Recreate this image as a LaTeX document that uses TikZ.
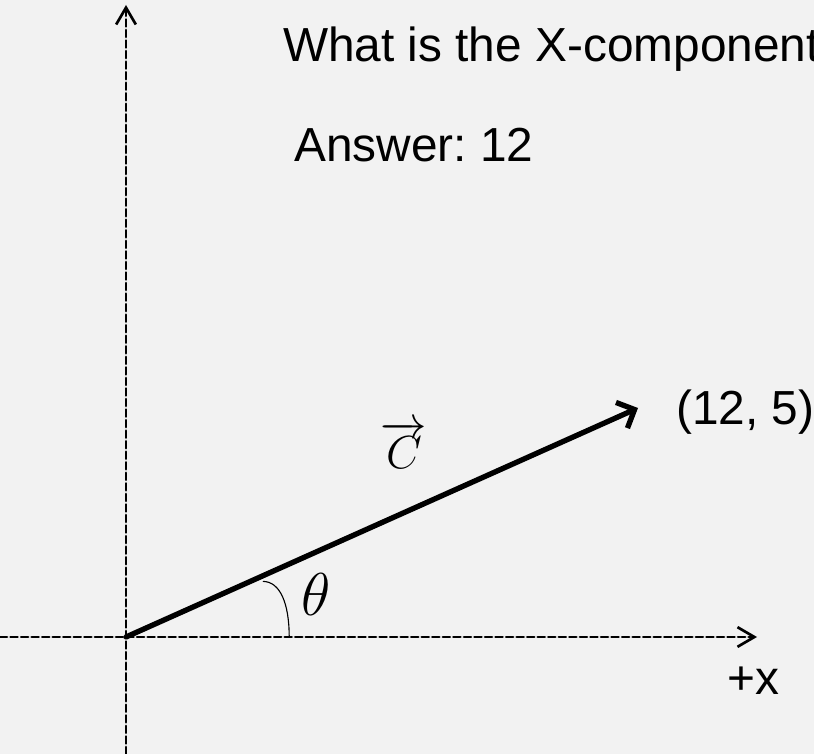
\RequirePackage{fix-cm}
\documentclass[tikz,border=0pt]{standalone}
\usepackage{fontspec}
\setmainfont{Liberation Sans}
\usetikzlibrary{arrows.meta}
\definecolor{nen}{RGB}{242,242,242}
\frenchspacing
\begin{document}
\begin{tikzpicture}[line join=round, line cap=round, font=\fontsize{34}{40}\selectfont,
	truc/.style={line width=1.9pt, dash pattern=on 5pt off 2.5pt, -{Straight Barb[length=12pt,width=14pt]}},
	vecto/.style={line width=3.8pt, -{Straight Barb[length=10pt,width=20pt]}},
	chu/.style={anchor=base west, inner sep=0pt}]
	\def\xmin{-3.15} \def\xmax{17.2}
	\def\ymin{-2.925} \def\ymax{15.925} % khung
	\fill[nen] (\xmin,\ymin) rectangle (\xmax,\ymax);
	\useasboundingbox (\xmin,\ymin) rectangle (\xmax,\ymax);
	\coordinate (O) at (0,0);
	\coordinate (xt) at (\xmin,0); \coordinate (xp) at (15.775,0);
	\coordinate (yd) at (0,\ymin); \coordinate (yt) at (0,15.8);
	\coordinate (C) at (12.8,5.725);
	\draw[truc] (xt)--(xp);
	\draw[truc] (yd)--(yt);
	\draw[vecto] (O)--(C);
	\draw[line width=0.8pt] (3.43,1.39) .. controls (3.85,1.38) and (4.08,0.85) .. (4.08,0);
	\node (theta) at (4.76,1.05) [inner sep=0pt]{\fontsize{43}{50}\selectfont$\theta$};
	\node (vC) at (6.95,4.8) [inner sep=0pt]{\fontsize{33}{40}\selectfont$\overrightarrow{C}$};
	\node (toado) at (13.75,5.3) [chu]{(12, 5)};
	\node (nhanx) at (15.03,-1.45) [chu]{+x};
	\node (cauhoi) at (3.92,14.375) [chu]{What is the X-component};
	\node (dapan) at (4.2,11.875) [chu]{Answer: 12};
\end{tikzpicture}
\end{document}
